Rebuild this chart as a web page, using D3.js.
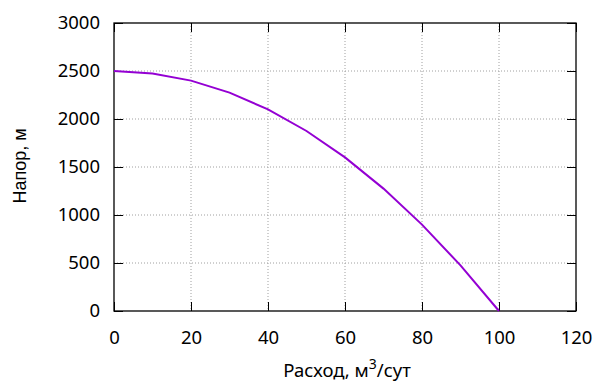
<!DOCTYPE html>
<html>
<head>
<meta charset="utf-8">
<script src="https://cdn.jsdelivr.net/npm/d3@7"></script>
<style>
  html, body { margin: 0; padding: 0; background: #fff; }
  svg { display: block; }
</style>
</head>
<body>
<div id="chart"></div>
<script>
// Pump curve: flow (m3/day) vs head (m)
const flow = [0, 10, 20, 30, 40, 50, 60, 70, 80, 90, 100];
const head = [2500, 2475, 2400, 2275, 2100, 1875, 1600, 1275, 900, 475, 0];
const xTicks = [0, 20, 40, 60, 80, 100, 120];
const yTicks = [0, 500, 1000, 1500, 2000, 2500, 3000];

const W = 597, H = 383;
const margin = { top: 23, right: 21, bottom: 72, left: 114 };
const iW = W - margin.left - margin.right;
const iH = H - margin.top - margin.bottom;

const svg = d3.select("#chart").append("svg")
  .attr("width", W).attr("height", H);

const g = svg.append("g").attr("transform", `translate(${margin.left},${margin.top})`);

const x = d3.scaleLinear().domain([0, 120]).range([0, iW]);
const y = d3.scaleLinear().domain([0, 3000]).range([iH, 0]);

const tickFont = "'Noto Sans', 'Open Sans', sans-serif";
const fs = 18.5;

// dotted grid
g.append("g")
  .selectAll("line").data(xTicks.slice(1, -1)).join("line")
  .attr("x1", d => x(d)).attr("x2", d => x(d))
  .attr("y1", 0).attr("y2", iH)
  .attr("stroke", "#a0a0a0").attr("stroke-width", 1).attr("stroke-dasharray", "1,2");
g.append("g")
  .selectAll("line").data(yTicks.slice(1, -1)).join("line")
  .attr("x1", 0).attr("x2", iW)
  .attr("y1", d => y(d)).attr("y2", d => y(d))
  .attr("stroke", "#a0a0a0").attr("stroke-width", 1).attr("stroke-dasharray", "1,2");

// axes with inward ticks, mirrored on top/right
const tk = 9;
g.append("g").attr("transform", `translate(0,${iH})`)
  .call(d3.axisBottom(x).tickValues(xTicks).tickSize(-tk).tickPadding(20).tickFormat(d3.format("d")))
  .call(a => a.select(".domain").remove())
  .call(a => a.selectAll("line").attr("stroke", "#000"))
  .call(a => a.selectAll("text").attr("font-family", tickFont).attr("font-size", fs).attr("fill", "#000"));
g.append("g")
  .call(d3.axisTop(x).tickValues(xTicks).tickSize(-tk).tickFormat(""))
  .call(a => a.select(".domain").remove())
  .call(a => a.selectAll("line").attr("stroke", "#000"));
g.append("g")
  .call(d3.axisLeft(y).tickValues(yTicks).tickSize(-tk).tickPadding(14).tickFormat(d3.format("d")))
  .call(a => a.select(".domain").remove())
  .call(a => a.selectAll("line").attr("stroke", "#000"))
  .call(a => a.selectAll("text").attr("font-family", tickFont).attr("font-size", fs).attr("fill", "#000"));
g.append("g").attr("transform", `translate(${iW},0)`)
  .call(d3.axisRight(y).tickValues(yTicks).tickSize(-tk).tickFormat(""))
  .call(a => a.select(".domain").remove())
  .call(a => a.selectAll("line").attr("stroke", "#000"));

// frame
g.append("rect")
  .attr("width", iW).attr("height", iH)
  .attr("fill", "none").attr("stroke", "#000").attr("stroke-width", 1.3);

// curve
const pts = flow.map((q, i) => [q, head[i]]);
g.append("path")
  .datum(pts)
  .attr("d", d3.line().x(d => x(d[0])).y(d => y(d[1])))
  .attr("fill", "none").attr("stroke", "#9400d3").attr("stroke-width", 2);

// axis labels
const xl = svg.append("text")
  .attr("x", margin.left + iW / 2 + 2).attr("y", 377)
  .attr("text-anchor", "middle")
  .attr("font-family", tickFont).attr("font-size", fs).attr("fill", "#000");
xl.append("tspan").text("Расход, м");
xl.append("tspan").attr("font-size", 14).attr("dy", -8).text("3");
xl.append("tspan").attr("dy", 8).text("/сут");

svg.append("text")
  .attr("transform", `translate(26,166) rotate(-90)`)
  .attr("text-anchor", "middle")
  .attr("font-family", "'Liberation Sans', Arial, sans-serif").attr("font-size", 18).attr("fill", "#000")
  .text("Напор, м");
</script>
</body>
</html>
